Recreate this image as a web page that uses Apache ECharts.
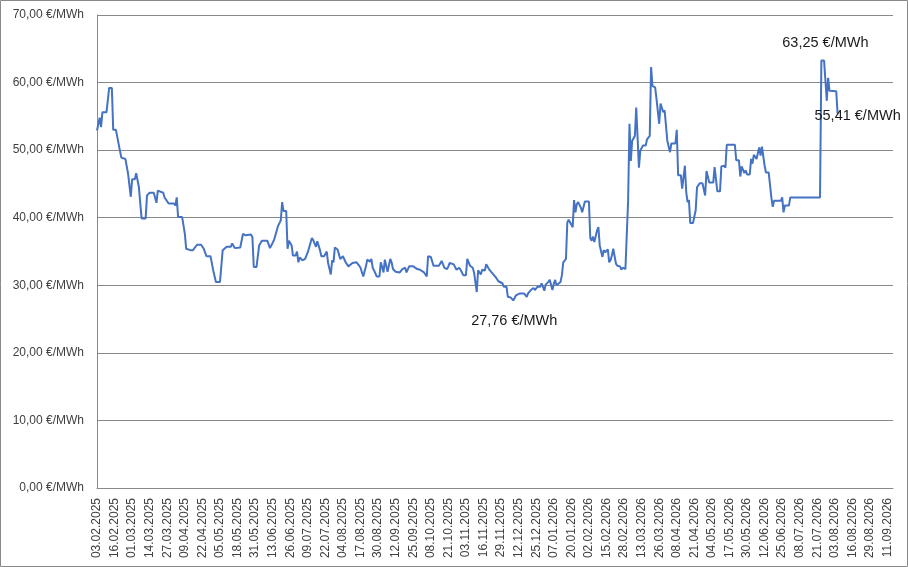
<!DOCTYPE html>
<html>
<head>
<meta charset="utf-8">
<script src="https://cdn.jsdelivr.net/npm/echarts@6/dist/echarts.min.js"></script>
<style>
  html, body { margin: 0; padding: 0; background: #fff; }
  #chart { width: 908px; height: 567px; }
</style>
</head>
<body>
<div id="chart"></div>
<script>
// first day of the axis and number of days shown
const startDate = Date.UTC(2025, 1, 3);
const dayCount = 590;
const labelStep = 13;

// day offset from 03.02.2025 and price in €/MWh
const dayIdx = [
  0, 2, 3, 4, 7, 9, 11, 12, 14, 17, 18, 21, 23, 25, 26, 28, 29, 31, 33, 36,
  37, 39, 42, 44, 45, 49, 50, 53, 57, 58, 59, 60, 63, 65, 66, 69, 71, 74, 77, 79,
  81, 84, 86, 88, 91, 93, 96, 99, 100, 102, 106, 108, 110, 114, 115, 116, 118, 120, 122, 126,
  128, 131, 132, 134, 136, 137, 138, 140, 141, 142, 144, 145, 147, 148, 149, 150, 152, 154, 156, 157,
  159, 160, 162, 163, 165, 166, 168, 170, 171, 173, 174, 175, 176, 178, 180, 181, 182, 184, 186, 189,
  192, 194, 195, 197, 199, 200, 202, 203, 204, 205, 207, 209, 210, 212, 213, 215, 217, 218, 219, 221,
  222, 224, 226, 228, 229, 231, 232, 234, 237, 239, 242, 244, 245, 247, 249, 250, 253, 255, 257, 259,
  260, 261, 264, 266, 268, 269, 271, 273, 274, 276, 278, 279, 281, 282, 284, 285, 287, 288, 290, 292,
  295, 297, 300, 301, 303, 304, 306, 308, 310, 311, 313, 316, 318, 319, 321, 323, 324, 326, 328, 329,
  331, 332, 334, 335, 337, 338, 339, 340, 343, 344, 345, 347, 348, 349, 350, 352, 353, 354, 355, 356,
  358, 359, 360, 361, 364, 365, 366, 367, 368, 370, 371, 372, 374, 375, 376, 378, 379, 380, 381, 382,
  384, 385, 387, 388, 389, 391, 392, 393, 394, 395, 396, 398, 399, 400, 401, 402, 404, 406, 407, 409,
  410, 411, 413, 414, 416, 417, 419, 420, 421, 422, 424, 425, 428, 429, 430, 432, 433, 434, 435, 436,
  437, 438, 439, 441, 443, 444, 446, 448, 450, 451, 453, 456, 457, 459, 461, 462, 464, 465, 466, 472,
  473, 475, 476, 477, 479, 480, 481, 483, 484, 485, 486, 488, 489, 490, 491, 492, 494, 495, 497, 499,
  500, 501, 506, 507, 508, 509, 512, 513, 535, 536, 538, 540, 541, 542, 543, 547, 548
];
const prices = [
  52.9, 54.8, 53.4, 55.6, 55.6, 59.2, 59.2, 53.0, 53.0, 49.9, 48.9, 48.7, 46.5, 43.1, 45.7, 45.7, 46.6, 44.5, 39.9, 39.9,
  43.3, 43.7, 43.7, 42.2, 44.0, 43.7, 43.0, 42.1, 42.1, 41.8, 43.0, 40.1, 40.1, 37.6, 35.4, 35.2, 35.2, 36.0, 36.0, 35.4,
  34.3, 34.3, 32.2, 30.5, 30.5, 35.2, 35.7, 35.7, 36.2, 35.5, 35.6, 37.6, 37.4, 37.5, 37.1, 32.7, 32.7, 35.9, 36.6, 36.6,
  35.5, 36.7, 36.9, 38.8, 39.6, 42.3, 41.0, 41.0, 35.4, 36.6, 35.9, 34.4, 34.4, 35.0, 33.4, 34.1, 33.7, 33.9, 34.9, 34.8,
  37.0, 36.7, 35.7, 36.5, 35.2, 34.3, 34.3, 35.0, 33.3, 31.6, 33.7, 33.4, 35.6, 35.3, 33.9, 33.7, 34.3, 33.4, 32.8, 33.3,
  33.4, 32.9, 32.6, 31.3, 32.8, 33.8, 33.5, 33.9, 32.6, 32.2, 31.3, 31.3, 33.4, 31.9, 33.8, 32.0, 33.9, 33.4, 32.4, 32.0,
  32.2, 31.9, 32.4, 32.6, 31.9, 32.8, 32.6, 32.8, 32.4, 32.3, 31.9, 31.3, 34.3, 34.2, 32.9, 33.1, 32.9, 33.6, 32.6, 32.4,
  32.8, 33.3, 33.1, 32.3, 32.6, 32.3, 31.5, 31.5, 33.9, 32.9, 32.6, 31.9, 29.0, 32.2, 31.6, 32.3, 32.2, 33.1, 32.4, 31.9,
  31.2, 30.6, 30.3, 29.8, 29.8, 28.3, 28.2, 27.76, 28.5, 28.3, 28.8, 28.8, 28.3, 28.8, 29.3, 29.6, 29.3, 29.8, 29.8, 30.3,
  29.2, 30.1, 30.5, 30.8, 29.3, 30.2, 30.8, 30.0, 30.5, 31.5, 33.4, 33.9, 39.3, 39.7, 39.7, 38.6, 42.6, 40.8, 42.0, 42.3,
  41.5, 40.8, 40.7, 42.4, 42.4, 37.0, 36.6, 37.2, 36.4, 38.1, 38.6, 35.9, 34.2, 35.2, 34.9, 35.3, 33.4, 33.7, 34.4, 35.4,
  33.2, 32.9, 32.8, 32.3, 32.6, 32.4, 32.4, 42.5, 53.9, 48.4, 51.4, 52.1, 56.3, 56.3, 47.4, 49.9, 50.7, 50.7, 51.6, 52.1,
  62.3, 59.5, 59.3, 57.6, 53.9, 56.9, 55.6, 55.9, 56.1, 51.4, 49.7, 51.0, 51.0, 53.0, 46.3, 46.3, 44.3, 44.5, 47.7, 43.8,
  42.3, 42.6, 39.2, 39.2, 41.1, 44.5, 45.1, 45.1, 43.3, 46.9, 45.2, 45.2, 47.5, 43.9, 43.9, 47.6, 47.7, 47.4, 50.8, 50.8,
  48.5, 48.5, 46.1, 47.6, 46.6, 47.0, 46.4, 46.4, 48.7, 48.0, 49.3, 48.7, 48.8, 50.4, 49.2, 50.5, 47.7, 46.7, 46.7, 43.0,
  41.6, 42.5, 42.5, 43.0, 40.8, 41.8, 41.8, 43.0, 43.0, 63.25, 63.25, 57.3, 60.7, 58.8, 58.7, 58.7, 55.41
];
// y ticks
const yMin = 0;
const yMax = 70;
const yStep = 10;

// which points carry a text label, and where it sits relative to the point
const labelled = { 536: [4, -18], 548: [20, 2], 308: [1, 21] };

function pad(n) { return n < 10 ? '0' + n : '' + n; }
const categories = [];
for (let i = 0; i < dayCount; i++) {
  const d = new Date(startDate + i * 86400000);
  categories.push(pad(d.getUTCDate()) + '.' + pad(d.getUTCMonth() + 1) + '.' + d.getUTCFullYear());
}

function euro(v) { return v.toFixed(2).replace('.', ',') + ' €/MWh'; }

const seriesData = dayIdx.map(function (d, i) {
  const item = { value: [d, prices[i]] };
  if (labelled[d]) {
    item.label = {
      show: true,
      position: 'inside',
      offset: labelled[d],
      formatter: function (p) { return euro(p.value[1]); },
      fontSize: 14.5,
      fontFamily: 'Liberation Sans',
      color: '#1a1a1a'
    };
  }
  return item;
});

const gridColor = '#898989';
const textColor = '#404040';

const chart = echarts.init(document.getElementById('chart'));
chart.setOption({
  animation: false,
  graphic: [{
    type: 'rect',
    shape: { x: 0.5, y: 0.5, width: 907, height: 566 },
    style: { fill: 'none', stroke: gridColor, lineWidth: 1 },
    silent: true
  }],
  grid: { left: 97, right: 15, top: 15, bottom: 79 },
  xAxis: {
    type: 'category',
    data: categories,
    boundaryGap: false,
    axisLine: { lineStyle: { color: gridColor, width: 1 } },
    axisTick: { show: false },
    axisLabel: {
      interval: labelStep - 1,
      rotate: 90,
      margin: 10,
      fontSize: 12,
      fontFamily: 'Liberation Sans',
      color: textColor
    },
    splitLine: { show: false }
  },
  yAxis: {
    type: 'value',
    min: yMin,
    max: yMax,
    interval: yStep,
    axisLine: { show: true, lineStyle: { color: gridColor, width: 1 } },
    axisTick: { show: false },
    axisLabel: {
      margin: 13,
      fontSize: 12,
      fontFamily: 'Liberation Sans',
      color: textColor,
      formatter: euro
    },
    splitLine: { lineStyle: { color: gridColor, width: 1 } }
  },
  series: [{
    type: 'line',
    data: seriesData,
    showSymbol: true,
    showAllSymbol: true,
    symbol: 'circle',
    symbolSize: 0,
    lineStyle: { color: '#4472C4', width: 2 },
    itemStyle: { color: '#4472C4' },
    label: { show: false },
    emphasis: { disabled: true }
  }]
});
</script>
</body>
</html>
